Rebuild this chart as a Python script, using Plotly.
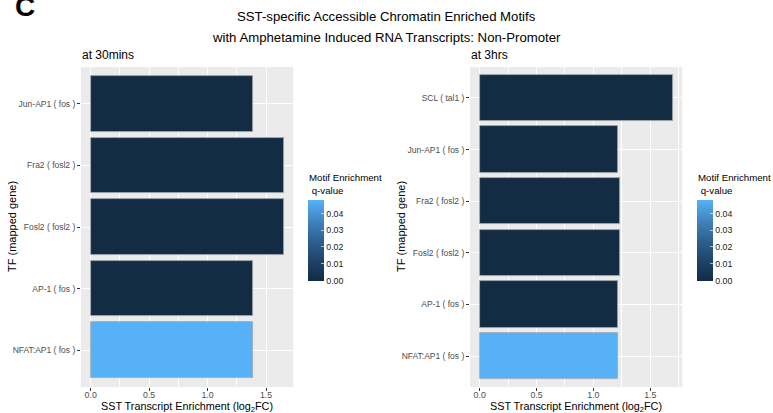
import plotly.graph_objects as go

# Motifs shown top-to-bottom in each panel
tf_30min = ["Jun-AP1 ( fos )", "Fra2 ( fosl2 )", "Fosl2 ( fosl2 )", "AP-1 ( fos )", "NFAT:AP1 ( fos )"]
fc_30min = [1.39, 1.65, 1.65, 1.39, 1.39]
q_30min = [0.0, 0.0, 0.0, 0.0, 0.0483]

tf_3hr = ["SCL ( tal1 )", "Jun-AP1 ( fos )", "Fra2 ( fosl2 )", "Fosl2 ( fosl2 )", "AP-1 ( fos )", "NFAT:AP1 ( fos )"]
fc_3hr = [1.697, 1.214, 1.234, 1.234, 1.214, 1.214]
q_3hr = [0.0, 0.0, 0.0, 0.0, 0.0, 0.0483]

x_ticks = [0.0, 0.5, 1.0, 1.5]
cbar_ticks = [0.00, 0.01, 0.02, 0.03, 0.04]

W, H = 773, 413
FONT = "Liberation Sans, Arial, sans-serif"

# ggplot-like default sequential gradient (dark navy -> light blue)
gradient = [
    [0.0, "#132B43"],
    [0.25, "#1F4468"],
    [0.5, "#2E6290"],
    [0.75, "#4185C0"],
    [1.0, "#56B1F7"],
]


def px_x(p):
    return p / W


def px_y(p):
    return 1 - p / H


fig = go.Figure()

fig.add_trace(go.Bar(
    x=fc_30min, y=tf_30min, orientation="h", width=0.9,
    marker=dict(color=q_30min, coloraxis="coloraxis",
                line=dict(color="#A3A9AF", width=0.8)),
    xaxis="x", yaxis="y", showlegend=False,
))
fig.add_trace(go.Bar(
    x=fc_3hr, y=tf_3hr, orientation="h", width=0.9,
    marker=dict(color=q_3hr, coloraxis="coloraxis2",
                line=dict(color="#A3A9AF", width=0.8)),
    xaxis="x2", yaxis="y2", showlegend=False,
))

ydom = [px_y(387), px_y(67)]


def x_axis(domain, vmax, anchor):
    return dict(
        domain=domain, anchor=anchor,
        range=[-0.05 * vmax, 1.05 * vmax],
        tickvals=x_ticks, ticktext=[f"{v:.1f}" for v in x_ticks],
        ticks="outside", ticklen=3, tickcolor="#333333", tickwidth=1,
        ticklabelstandoff=-4,
        tickfont=dict(family=FONT, size=8.8, color="#4D4D4D"),
        showgrid=True, gridcolor="white", gridwidth=1.1,
        minor=dict(dtick=0.25, tick0=0.25, showgrid=True, gridcolor="white", gridwidth=0.5),
        zeroline=False, showline=False, fixedrange=True, automargin=False,
    )


def y_axis(cats, anchor):
    n = len(cats)
    return dict(
        domain=ydom, anchor=anchor, type="category",
        categoryorder="array", categoryarray=list(reversed(cats)),
        range=[-0.6, n - 0.4],
        ticks="outside", ticklen=3, tickcolor="#333333", tickwidth=1,
        ticklabelstandoff=0,
        tickfont=dict(family=FONT, size=8.5, color="#4D4D4D"),
        showgrid=True, gridcolor="white", gridwidth=1.1,
        zeroline=False, showline=False, fixedrange=True, automargin=False,
    )


def cbar(x_left, qvals):
    return dict(
        colorscale=gradient,
        cmin=min(qvals), cmax=max(qvals),
        colorbar=dict(
            x=px_x(x_left), xanchor="left", xpad=0, ypad=0,
            y=px_y(240), yanchor="middle",
            lenmode="pixels", len=81, thickness=16, thicknessmode="pixels",
            outlinewidth=0,
            tickvals=cbar_ticks, ticktext=[f"{v:.2f}" for v in cbar_ticks],
            ticks="inside", ticklen=3, tickcolor="rgba(255,255,255,0.6)",
            tickfont=dict(family=FONT, size=8.8, color="#1A1A1A"),
        ),
    )


def text(t, x, y, size, xanchor="center", angle=0):
    return dict(text=t, x=px_x(x), y=px_y(y), xref="paper", yref="paper",
                xanchor=xanchor, yanchor="middle", showarrow=False, textangle=angle,
                font=dict(family=FONT, size=size, color="black"))


xtitle = "SST Transcript Enrichment (log<sub>2</sub>FC)"
legend_title = "Motif Enrichment<br> q-value"
annotations = [
    text("SST-specific Accessible Chromatin Enriched Motifs", 386.5, 17, 13.2),
    text("with Amphetamine Induced RNA Transcripts: Non-Promoter", 386.5, 37, 13.2),
    text("at 30mins", 80, 55, 12, "left"),
    text("at 3hrs", 469, 55, 12, "left"),
    text("<b>C</b>", 13, 6, 28, "left"),
    text(xtitle, 187, 406.5, 10.8),
    text(xtitle, 576, 406.5, 10.8),
    text("TF (mapped gene)", 12, 227, 11, angle=-90),
    text("TF (mapped gene)", 401, 227, 11, angle=-90),
    text(legend_title, 307, 184, 9.7, "left"),
    text(legend_title, 696, 184, 9.7, "left"),
]
for a in annotations[-2:]:
    a["align"] = "left"

fig.update_layout(
    width=W, height=H,
    margin=dict(l=0, r=0, t=0, b=0),
    paper_bgcolor="white", plot_bgcolor="#EBEBEB",
    bargap=0,
    xaxis=x_axis([px_x(81), px_x(293.2)], max(fc_30min), "y"),
    yaxis=y_axis(tf_30min, "x"),
    xaxis2=x_axis([px_x(470), px_x(682.3)], max(fc_3hr), "y2"),
    yaxis2=y_axis(tf_3hr, "x2"),
    coloraxis=cbar(308, q_30min),
    coloraxis2=cbar(697, q_3hr),
    annotations=annotations,
)

fig.write_html("out.html")
